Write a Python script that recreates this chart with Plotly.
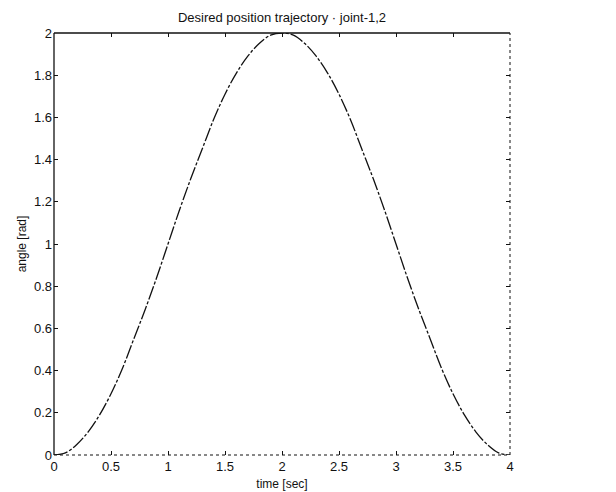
import plotly.graph_objects as go

# time [sec]
time_s = [0.0, 0.1, 0.2, 0.3, 0.4, 0.5, 0.6, 0.7, 0.8, 0.9, 1.0,
          1.1, 1.2, 1.3, 1.4, 1.5, 1.6, 1.7, 1.8, 1.9, 2.0,
          2.1, 2.2, 2.3, 2.4, 2.5, 2.6, 2.7, 2.8, 2.9, 3.0,
          3.1, 3.2, 3.3, 3.4, 3.5, 3.6, 3.7, 3.8, 3.9, 4.0]
# angle [rad]
angle_rad = [0.00, 0.01, 0.05, 0.11, 0.19, 0.29, 0.41, 0.55, 0.69, 0.84, 1.00,
             1.16, 1.31, 1.45, 1.59, 1.71, 1.81, 1.89, 1.95, 1.99, 2.00,
             1.99, 1.95, 1.89, 1.81, 1.71, 1.59, 1.45, 1.31, 1.16, 1.00,
             0.84, 0.69, 0.55, 0.41, 0.29, 0.19, 0.11, 0.05, 0.01, 0.00]

x_ticks = [0, 0.5, 1, 1.5, 2, 2.5, 3, 3.5, 4]
x_tick_labels = ["0", "0.5", "1", "1.5", "2", "2.5", "3", "3.5", "4"]
y_ticks = [0, 0.2, 0.4, 0.6, 0.8, 1, 1.2, 1.4, 1.6, 1.8, 2]
y_tick_labels = ["0", "0.2", "0.4", "0.6", "0.8", "1", "1.2", "1.4", "1.6", "1.8", "2"]

fig = go.Figure()
fig.add_trace(go.Scatter(
    x=time_s, y=angle_rad, mode="lines",
    line=dict(color="#111111", width=1.3, dash="14px,2px,3px,2px", shape="spline"),
    showlegend=False,
))

font_family = "Liberation Sans, Arial, sans-serif"
fig.update_layout(
    width=616, height=492,
    margin=dict(l=54, r=106, t=33, b=37),
    paper_bgcolor="white", plot_bgcolor="white",
    font=dict(family=font_family, size=13, color="#111111"),
    title=dict(text="Desired position trajectory · joint-1,2", x=(54 + 510) / 2 / 616,
               xanchor="center", y=1 - 17 / 492, yanchor="middle", yref="container",
               font=dict(size=13)),
    xaxis=dict(range=[0, 4], tickvals=x_ticks, ticktext=x_tick_labels,
               ticks="inside", ticklen=4, tickcolor="#111111", mirror="ticks",
               showline=False, showgrid=False, zeroline=False, ticklabelstandoff=2,
               tickfont=dict(size=13), automargin=False,
               title=dict(text="time [sec]", standoff=6, font=dict(size=12))),
    yaxis=dict(range=[0, 2], tickvals=y_ticks, ticktext=y_tick_labels,
               ticks="inside", ticklen=4, tickcolor="#111111", mirror="ticks",
               showline=False, showgrid=False, zeroline=False, ticklabelstandoff=1,
               tickfont=dict(size=13), automargin=False,
               title=dict(text="angle [rad]", standoff=4, font=dict(size=12))),
    shapes=[
        dict(type="line", xref="paper", yref="paper", x0=0, y0=0, x1=0, y1=1,
             line=dict(color="#111111", width=1.3)),
        dict(type="line", xref="paper", yref="paper", x0=0, y0=1, x1=1, y1=1,
             line=dict(color="#111111", width=1.3)),
        dict(type="line", xref="paper", yref="paper", x0=1, y0=0, x1=1, y1=1,
             line=dict(color="#111111", width=1, dash="dot")),
        dict(type="line", xref="paper", yref="paper", x0=0, y0=0, x1=1, y1=0,
             line=dict(color="#111111", width=1, dash="dot")),
    ],
)

fig.write_html("out.html")
